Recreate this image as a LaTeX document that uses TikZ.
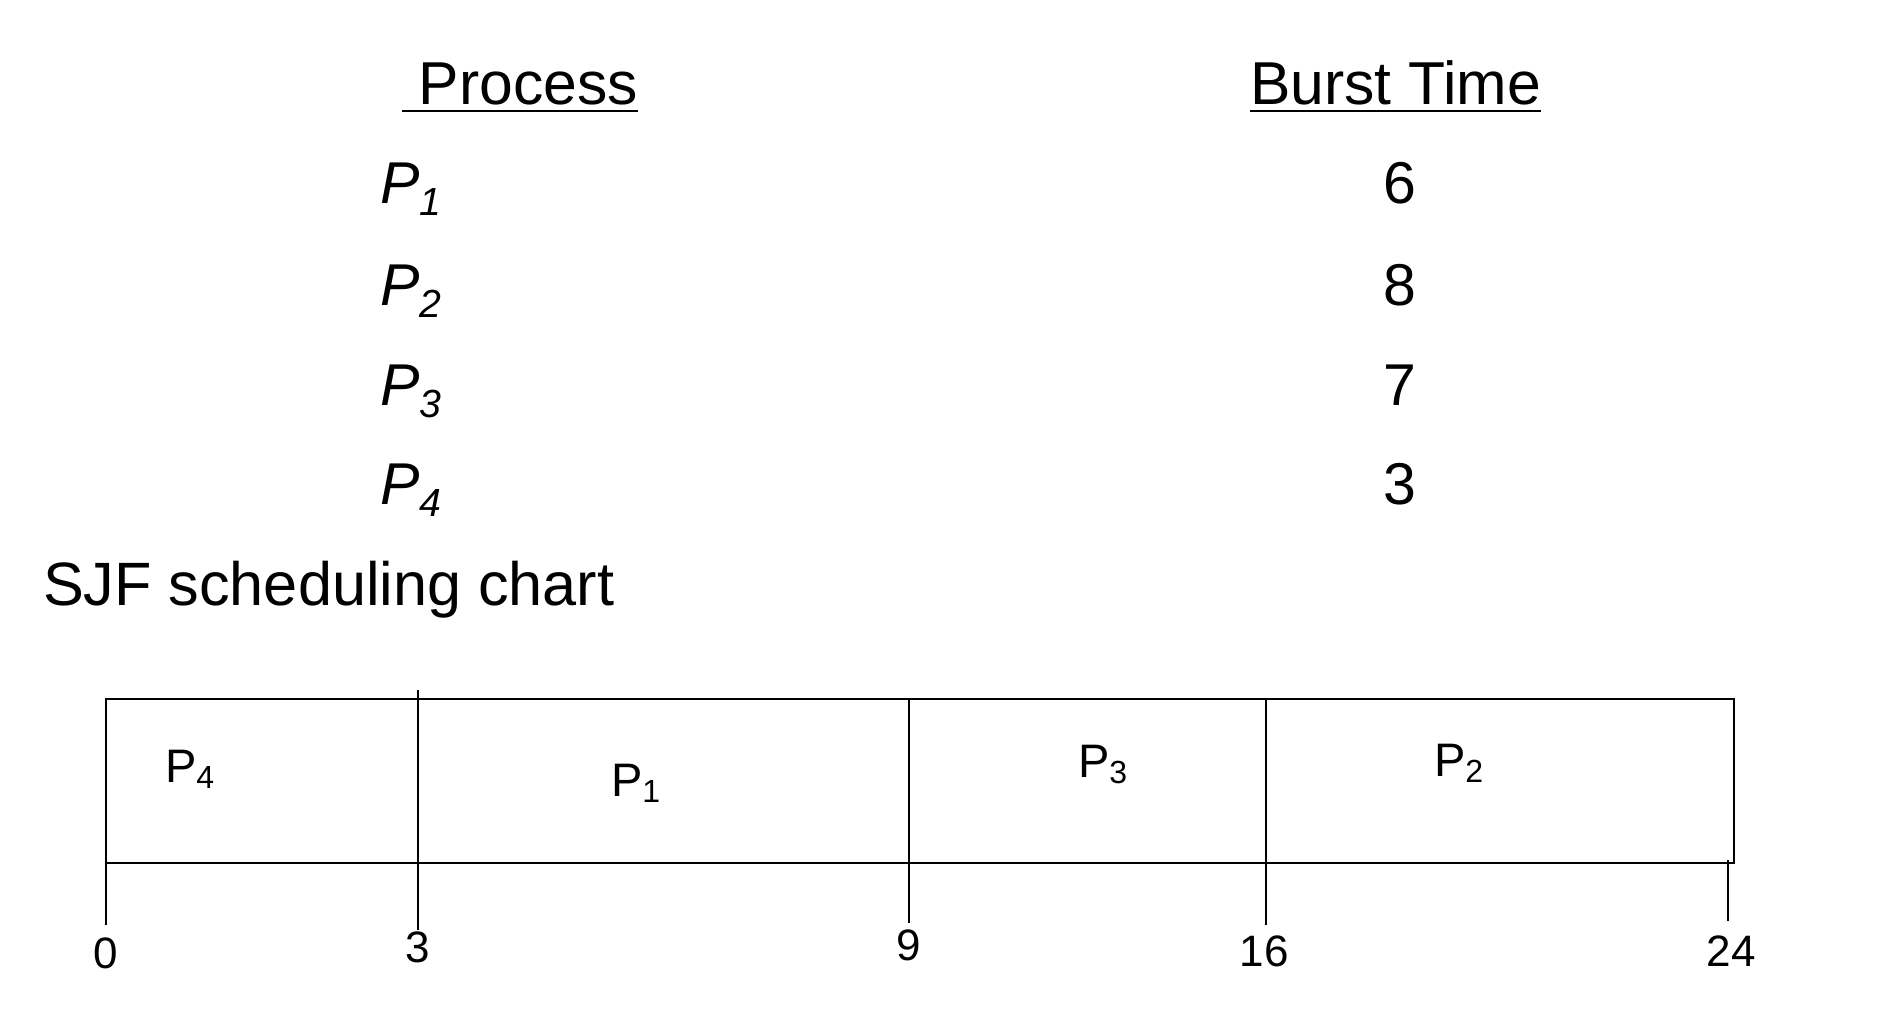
\documentclass[tikz,border=0pt]{standalone}
\usepackage{fontspec}
\setmainfont{Liberation Sans}
\newcommand{\rowproc}[1]{\textit{P\raisebox{-6pt}{\fontsize{19.6}{20}\selectfont #1}}}
\newcommand{\barproc}[1]{P\raisebox{-3pt}{\fontsize{16}{16}\selectfont #1}}
\begin{document}
\begin{tikzpicture}[x=0.5pt,y=-0.5pt,
  txt/.style={inner sep=0pt,outer sep=0pt},
  head/.style={txt,anchor=base west,font=\fontsize{30.3}{36}\selectfont},
  rowtxt/.style={txt,font=\fontsize{29.5}{36}\selectfont},
  bartxt/.style={txt,anchor=base west,font=\fontsize{23.5}{28}\selectfont},
  ticktxt/.style={txt,anchor=base,font=\fontsize{22}{26}\selectfont},
  rule/.style={line width=1pt},
  gantt/.style={line width=1pt}]
\useasboundingbox (0,0) rectangle (1890,1008);
% table
\node[head] (proc) at (402,104) {\ Process};
\node[head] (burst) at (1250,104) {Burst Time};
\draw[rule] ([yshift=-3.5pt]proc.base west) -- ([yshift=-3.5pt]proc.base east);
\draw[rule] ([yshift=-3.5pt]burst.base west) -- ([yshift=-3.5pt]burst.base east);
\foreach \n/\t/\y in {1/6/203,2/8/305,3/7/405,4/3/504}{
  \node[rowtxt,anchor=base west] (p\n) at (380,\y) {\rowproc{\n}};
  \node[rowtxt,anchor=base] (b\n) at (1400,\y) {\t};
}
\node[txt,anchor=base west,font=\fontsize{30.6}{36}\selectfont] (title) at (43,605) {SJF scheduling chart};
% gantt chart
\coordinate (nw) at (106,699);
\coordinate (se) at (1734,863);
\draw[gantt] (nw) rectangle (se);
\draw[gantt] (418,690) -- (418,930);
\draw[gantt] (909,699) -- (909,923);
\draw[gantt] (1266,699) -- (1266,925);
\draw[gantt] (106,863) -- (106,925);
\draw[gantt] (1728,860) -- (1728,921);
\node[bartxt] (c4) at (165,782) {\barproc{4}};
\node[bartxt] (c1) at (611,796) {\barproc{1}};
\node[bartxt] (c3) at (1078,777) {\barproc{3}};
\node[bartxt] (c2) at (1434,776) {\barproc{2}};
\node[ticktxt] (t0) at (106,968) {0};
\node[ticktxt] (t3) at (418,962) {3};
\node[ticktxt] (t9) at (909,960) {9};
\node[ticktxt] (t16) at (1264,966) {16};
\node[ticktxt] (t24) at (1731,966) {24};
\end{tikzpicture}
\end{document}
